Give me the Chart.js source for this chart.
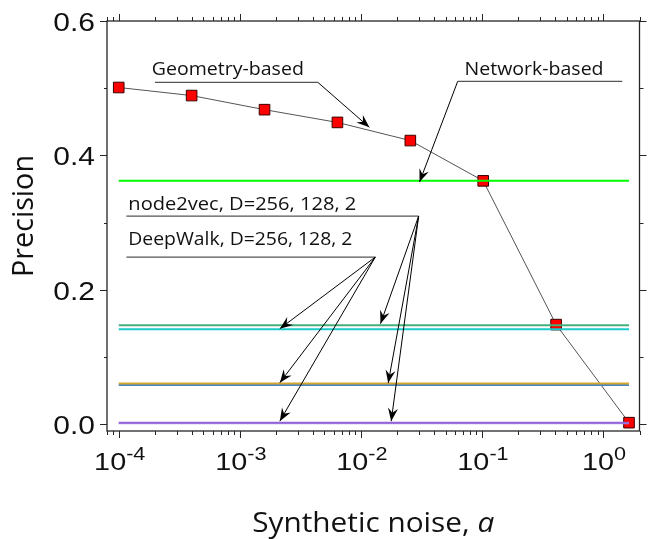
<!DOCTYPE html>
<html><head><meta charset="utf-8">
<script src="https://cdn.jsdelivr.net/npm/chart.js@4"></script>
<style>html,body{margin:0;padding:0;background:#fff}canvas{display:block}</style>
</head><body>
<canvas id="c" width="648" height="539"></canvas>
<script>
// ---------------- DATA ----------------
const noiseLevels = [1e-4, 4e-4, 1.6e-3, 6.4e-3, 2.56e-2, 0.1024, 0.4096, 1.6384];
const geometryPrecision = [0.501, 0.489, 0.468, 0.449, 0.422, 0.362, 0.148, 0.002];
const networkPrecision = 0.362;
const embeddingDims = ['256', '128', '2'];
const node2vecPrecision = [0.147, 0.0605, 0.002];
const deepWalkPrecision = [0.141, 0.058, 0.001];
const yMajorTicks = [0, 0.2, 0.4, 0.6];
const yMinorTicks = [0.1, 0.3, 0.5];
const xDecadeExponents = [-4, -3, -2, -1, 0];
const xTitle = 'Synthetic noise, ';
const xTitleVar = 'a';
const yTitle = 'Precision';
const geometryLabel = 'Geometry-based';
const networkLabel = 'Network-based';
const node2vecLabel = 'node2vec, D=' + embeddingDims.join(', ');
const deepWalkLabel = 'DeepWalk, D=' + embeddingDims.join(', ');

// ---------------- LAYOUT / STYLE ----------------
const X_MIN = 8e-5, X_MAX = 2.0, Y_MIN = -0.0104, Y_MAX = 0.6;
const ANN_FONT = "'Open Sans', sans-serif";
const TICK_FONT = "'Liberation Sans', Arial, sans-serif";
// callouts: anchor points in data coordinates
const callouts = [
  {text: geometryLabel, textAt: [1.877e-4, 0.5203], width: 152, size: 18,
   under: [[1.99e-4, 0.5087], [4.41e-3, 0.5087]], from: 1, arrows: [[0.01175, 0.4417]]},
  {text: networkLabel, textAt: [0.0718, 0.5203], width: 139, size: 18,
   under: [[1.44, 0.510], [0.0630, 0.510]], from: 1, arrows: [[0.0305, 0.3602]]},
  {text: node2vecLabel, textAt: [1.2e-4, 0.3189], width: 228, size: 18.5,
   under: [[1.156e-4, 0.3096], [0.030, 0.3096]], from: 1,
   arrows: [[0.01452, 0.1494], [0.0168, 0.0609], [0.0178, 0.0043]]},
  {text: deepWalkLabel, textAt: [1.2e-4, 0.266], width: 224, size: 18.5,
   under: [[1.156e-4, 0.2485], [0.01315, 0.2485]], from: 1,
   arrows: [[2.14e-3, 0.1419], [2.14e-3, 0.0615], [2.14e-3, 0.0043]]}
];
const node2vecColors = ['#45b07a', '#d4a630', '#9366d8'];
const deepWalkColors = ['#1ecbcb', '#4a84c4', '#b79be6'];

function hLine(v) {
  return [{x: noiseLevels[0], y: v}, {x: noiseLevels[noiseLevels.length - 1], y: v}];
}

const datasets = [];
node2vecPrecision.forEach((v, i) => datasets.push({
  label: 'node2vec D=' + embeddingDims[i], data: hLine(v), showLine: true,
  borderColor: node2vecColors[i], borderWidth: 2, pointRadius: 0}));
deepWalkPrecision.forEach((v, i) => datasets.push({
  label: 'DeepWalk D=' + embeddingDims[i], data: hLine(v), showLine: true,
  borderColor: deepWalkColors[i], borderWidth: 2, pointRadius: 0}));
datasets.push({label: 'Network-based', data: hLine(networkPrecision), showLine: true,
  borderColor: '#00ff00', borderWidth: 2, pointRadius: 0});
datasets.push({label: 'Geometry-based',
  data: noiseLevels.map((x, i) => ({x, y: geometryPrecision[i]})), showLine: true,
  borderColor: '#555', borderWidth: 1, pointStyle: 'rect', pointRadius: 7.5,
  pointBackgroundColor: '#ff0000', pointBorderColor: '#3a0000', pointBorderWidth: 1});

function drawParts(ctx, parts, x, y, align, targetWidth) {
  let w = 0;
  parts.forEach(p => { ctx.font = p.font; p.w = ctx.measureText(p.text).width; w += p.w; });
  const sx = targetWidth ? targetWidth / w : (parts[0].sx || 1);
  let cur = align === 'left' ? x : align === 'center' ? x - w * sx / 2 : x - w * sx;
  ctx.textAlign = 'left';
  ctx.textBaseline = 'alphabetic';
  parts.forEach(p => {
    ctx.save(); ctx.font = p.font; ctx.translate(cur, p.dy ? y + p.dy : y); ctx.scale(sx, 1);
    ctx.fillText(p.text, 0, 0); ctx.restore();
    cur += p.w * sx;
  });
}

function arrowHead(ctx, x0, y0, x1, y1) {
  const L = 13, W = 5, N = 0.65;
  const dx = x1 - x0, dy = y1 - y0, d = Math.hypot(dx, dy);
  const ux = dx / d, uy = dy / d, px = -uy, py = ux;
  ctx.beginPath();
  ctx.moveTo(x1, y1);
  ctx.lineTo(x1 - L * ux + W * px, y1 - L * uy + W * py);
  ctx.lineTo(x1 - N * L * ux, y1 - N * L * uy);
  ctx.lineTo(x1 - L * ux - W * px, y1 - L * uy - W * py);
  ctx.closePath();
  ctx.fill();
}

const framePlugin = {
  id: 'frame',
  beforeDraw(chart) {
    const ctx = chart.ctx;
    ctx.save(); ctx.fillStyle = '#fff'; ctx.fillRect(0, 0, chart.width, chart.height); ctx.restore();
  },
  afterDraw(chart) {
    const ctx = chart.ctx, xs = chart.scales.x, ys = chart.scales.y, a = chart.chartArea;
    const X = v => xs.getPixelForValue(v), Y = v => ys.getPixelForValue(v);
    ctx.save();
    // frame
    ctx.strokeStyle = '#262626'; ctx.lineWidth = 1.3;
    ctx.strokeRect(a.left, a.top, a.right - a.left, a.bottom - a.top);
    // x ticks (log)
    ctx.lineWidth = 1;
    for (let e = -5; e <= 0; e++) {
      for (let m = 1; m <= 9; m++) {
        const v = m * Math.pow(10, e);
        if (v < X_MIN || v > X_MAX) continue;
        const px = Math.round(X(v)) + 0.5, len = m === 1 ? 7 : 4;
        ctx.beginPath();
        ctx.moveTo(px, a.bottom); ctx.lineTo(px, a.bottom + len);
        ctx.moveTo(px, a.top); ctx.lineTo(px, a.top - len);
        ctx.stroke();
      }
    }
    // y ticks
    yMajorTicks.concat(yMinorTicks).forEach(v => {
      const py = Math.round(Y(v)) + 0.5, major = yMajorTicks.includes(v);
      ctx.beginPath();
      ctx.moveTo(a.left, py); ctx.lineTo(a.left - (major ? 7 : 3), py);
      ctx.moveTo(a.right, py); ctx.lineTo(a.right + (major ? 7 : 4), py);
      ctx.stroke();
    });
    ctx.fillStyle = '#111';
    // y tick labels
    yMajorTicks.forEach(v => {
      drawParts(ctx, [{text: v.toFixed(1), font: '25px ' + TICK_FONT, sx: 1.2}], a.left - 12, Y(v) + 10, 'right');
    });
    // x tick labels
    xDecadeExponents.forEach(e => {
      const px = X(Math.pow(10, e));
      drawParts(ctx, [
        {text: '10', font: '24px ' + TICK_FONT, sx: 1.2},
        {text: String(e).replace('-', '-'), font: '18px ' + TICK_FONT, dy: -10}
      ], px + 1, 470, 'center');
    });
    // titles
    drawParts(ctx, [{text: xTitle, font: '28px ' + ANN_FONT},
                    {text: xTitleVar, font: 'italic 28px ' + ANN_FONT}],
              (a.left + a.right) / 2, 532, 'center', 242);
    ctx.save();
    ctx.translate(33, 216); ctx.rotate(-Math.PI / 2);
    drawParts(ctx, [{text: yTitle, font: '30px ' + ANN_FONT}], 0, 0, 'center', 122);
    ctx.restore();
    // callouts
    callouts.forEach(c => {
      ctx.fillStyle = '#111';
      drawParts(ctx, [{text: c.text, font: c.size + 'px ' + ANN_FONT}], X(c.textAt[0]), Y(c.textAt[1]), 'left', c.width);
      const u0 = c.under[0], u1 = c.under[1];
      ctx.strokeStyle = '#555'; ctx.lineWidth = 1.2;
      ctx.beginPath(); ctx.moveTo(X(u0[0]), Y(u0[1])); ctx.lineTo(X(u1[0]), Y(u1[1])); ctx.stroke();
      const ox = X(c.under[c.from][0]), oy = Y(c.under[c.from][1]);
      ctx.strokeStyle = '#000'; ctx.fillStyle = '#000'; ctx.lineWidth = 1;
      c.arrows.forEach(t => {
        const tx = X(t[0]), ty = Y(t[1]);
        ctx.beginPath(); ctx.moveTo(ox, oy); ctx.lineTo(tx, ty); ctx.stroke();
        arrowHead(ctx, ox, oy, tx, ty);
      });
    });
    ctx.restore();
  }
};

new Chart(document.getElementById('c'), {
  type: 'scatter',
  data: {datasets},
  options: {
    responsive: false, animation: false, devicePixelRatio: 1,
    layout: {padding: {left: 107, right: 5, top: 21, bottom: 108}},
    plugins: {legend: {display: false}, tooltip: {enabled: false}},
    scales: {
      x: {type: 'logarithmic', min: X_MIN, max: X_MAX, display: false},
      y: {type: 'linear', min: Y_MIN, max: Y_MAX, display: false}
    }
  },
  plugins: [framePlugin]
});
</script>
</body></html>
